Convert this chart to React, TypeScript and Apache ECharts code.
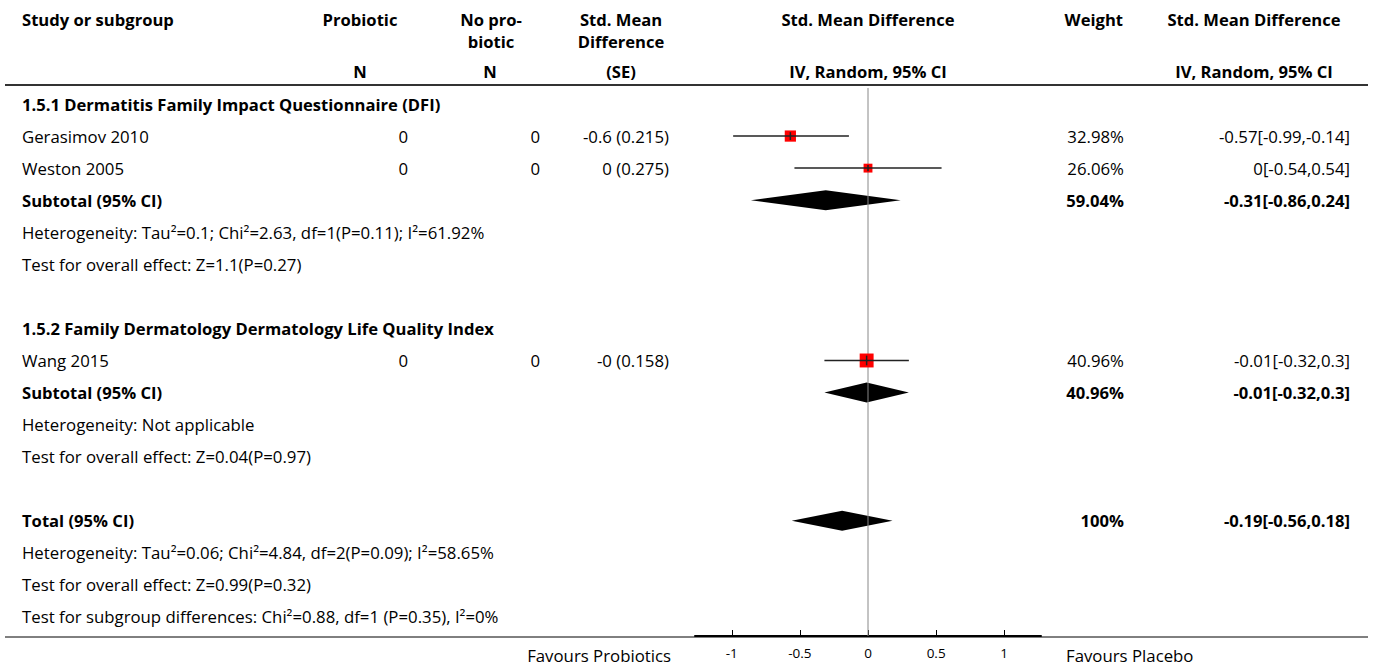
import React, { useEffect, useRef } from "react";
import * as echarts from "echarts";

// ---------- data ----------
const studyNames = ["Gerasimov 2010", "Weston 2005", "Wang 2015"];
const studyRows = [1, 2, 8];
const studyN1 = ["0", "0", "0"];
const studyN2 = ["0", "0", "0"];
const studySE = ["-0.6 (0.215)", "0 (0.275)", "-0 (0.158)"];
const studyEst = [-0.57, 0, -0.01];
const studyLo = [-0.99, -0.54, -0.32];
const studyHi = [-0.14, 0.54, 0.3];
const studyWeight = [32.98, 26.06, 40.96];
const studyWeightLabel = ["32.98%", "26.06%", "40.96%"];
const studyCILabel = ["-0.57[-0.99,-0.14]", "0[-0.54,0.54]", "-0.01[-0.32,0.3]"];

const pooledRows = [3, 9, 13];
const pooledLabels = ["Subtotal (95% CI)", "Subtotal (95% CI)", "Total (95% CI)"];
const pooledEst = [-0.31, -0.01, -0.19];
const pooledLo = [-0.86, -0.32, -0.56];
const pooledHi = [0.24, 0.3, 0.18];
const pooledWeightLabel = ["59.04%", "40.96%", "100%"];
const pooledCILabel = ["-0.31[-0.86,0.24]", "-0.01[-0.32,0.3]", "-0.19[-0.56,0.18]"];

const headingRows = [0, 7];
const headingLabels = [
  "1.5.1 Dermatitis Family Impact Questionnaire (DFI)",
  "1.5.2 Family Dermatology Dermatology Life Quality Index",
];

const noteRows = [4, 5, 10, 11, 14, 15, 16];
const noteLabels = [
  "Heterogeneity: Tau²=0.1; Chi²=2.63, df=1(P=0.11); I²=61.92%",
  "Test for overall effect: Z=1.1(P=0.27)",
  "Heterogeneity: Not applicable",
  "Test for overall effect: Z=0.04(P=0.97)",
  "Heterogeneity: Tau²=0.06; Chi²=4.84, df=2(P=0.09); I²=58.65%",
  "Test for overall effect: Z=0.99(P=0.32)",
  "Test for subgroup differences: Chi²=0.88, df=1 (P=0.35), I²=0%",
];

const tickValues = [-1, -0.5, 0, 0.5, 1];
const axisMin = -1.27;
const axisMax = 1.27;
const favoursLeft = "Favours Probiotics";
const favoursRight = "Favours Placebo";

// ---------- layout ----------
const W = 1373;
const H = 668;
const ROW0 = 104;
const ROWH = 32.06;
const GRID_LEFT = 695;
const GRID_W = 346;
const GRID_H = 636;
const Y_MIN = -ROW0 / ROWH;
const Y_MAX = Y_MIN + GRID_H / ROWH;
const FONT = "'Open Sans'";
const FS = 16.8;
const FSB = 16.6;
const rowY = (i: number) => ROW0 + ROWH * i;

function txt(text: string, x: number, y: number, align: string, bold = false) {
  return {
    type: "text",
    x,
    y,
    silent: true,
    style: {
      text,
      fill: "#000",
      font: `${bold ? "bold " : ""}${bold ? FSB : FS}px ${FONT}`,
      textAlign: align,
      textVerticalAlign: "middle",
    },
  };
}

export default function App() {
  const ref = useRef<HTMLDivElement>(null);
  useEffect(() => {
    if (!ref.current) return;
    const chart = echarts.init(ref.current, undefined, { renderer: "svg" });

    const graphics: any[] = [];
    // header
    const h1 = 19, h2 = 41, h3 = 71;
    graphics.push(txt("Study or subgroup", 22, h1, "left", true));
    graphics.push(txt("Probiotic", 360, h1, "center", true));
    graphics.push(txt("N", 360, h3, "center", true));
    graphics.push(txt("No pro-", 491, h1, "center", true));
    graphics.push(txt("biotic", 491, h2, "center", true));
    graphics.push(txt("N", 490, h3, "center", true));
    graphics.push(txt("Std. Mean", 621, h1, "center", true));
    graphics.push(txt("Difference", 621, h2, "center", true));
    graphics.push(txt("(SE)", 621, h3, "center", true));
    graphics.push(txt("Std. Mean Difference", 868, h1, "center", true));
    graphics.push(txt("IV, Random, 95% CI", 868, h3, "center", true));
    graphics.push(txt("Weight", 1123, h1, "right", true));
    graphics.push(txt("Std. Mean Difference", 1254, h1, "center", true));
    graphics.push(txt("IV, Random, 95% CI", 1254, h3, "center", true));
    graphics.push({ type: "line", silent: true, shape: { x1: 5, y1: 85, x2: 1368, y2: 85 }, style: { stroke: "#333", lineWidth: 2 } });
    graphics.push({ type: "line", silent: true, shape: { x1: 5, y1: 637, x2: 1368, y2: 637 }, style: { stroke: "#000", lineWidth: 1 } });

    headingRows.forEach((r, i) => graphics.push(txt(headingLabels[i], 22, rowY(r), "left", true)));
    studyRows.forEach((r, i) => {
      const y = rowY(r);
      graphics.push(txt(studyNames[i], 22, y, "left"));
      graphics.push(txt(studyN1[i], 408, y, "right"));
      graphics.push(txt(studyN2[i], 540, y, "right"));
      graphics.push(txt(studySE[i], 669, y, "right"));
      graphics.push(txt(studyWeightLabel[i], 1124, y, "right"));
      graphics.push(txt(studyCILabel[i], 1350, y, "right"));
    });
    pooledRows.forEach((r, i) => {
      const y = rowY(r);
      graphics.push(txt(pooledLabels[i], 22, y, "left", true));
      graphics.push(txt(pooledWeightLabel[i], 1124, y, "right", true));
      graphics.push(txt(pooledCILabel[i], 1350, y, "right", true));
    });
    noteRows.forEach((r, i) => graphics.push(txt(noteLabels[i], 22, rowY(r), "left")));
    graphics.push(txt(favoursLeft, 671, 655, "right"));
    graphics.push(txt(favoursRight, 1066, 655, "left"));

    const studyData = studyRows.map((r, i) => [studyEst[i], r, studyLo[i], studyHi[i], studyWeight[i]]);
    const pooledData = pooledRows.map((r, i) => [pooledEst[i], r, pooledLo[i], pooledHi[i]]);

    chart.setOption({
      animation: false,
      grid: { left: GRID_LEFT, width: GRID_W, top: 0, height: GRID_H },
      xAxis: {
        type: "value",
        min: axisMin,
        max: axisMax,
        position: "bottom",
        axisLine: { show: true, onZero: false, lineStyle: { color: "#000", width: 2 } },
        axisTick: { show: true, inside: true, length: 6, customValues: tickValues, lineStyle: { color: "#000" } },
        axisLabel: { customValues: tickValues, fontSize: 13.5, color: "#000", fontFamily: "Open Sans", margin: 10 },
        splitLine: { show: false },
      },
      yAxis: { type: "value", show: false, inverse: true, min: Y_MIN, max: Y_MAX },
      graphic: graphics,
      series: [
        {
          type: "custom",
          coordinateSystem: "cartesian2d",
          data: pooledData,
          z: 2,
          renderItem: (params: any, api: any) => {
            const c = api.coord([api.value(0), api.value(1)]);
            const l = api.coord([api.value(2), api.value(1)]);
            const r = api.coord([api.value(3), api.value(1)]);
            const hh = 10;
            return {
              type: "polygon",
              shape: { points: [[l[0], c[1]], [c[0], c[1] - hh], [r[0], c[1]], [c[0], c[1] + hh]] },
              style: { fill: "#000" },
            };
          },
        },
        {
          type: "line",
          data: [[0, -0.5], [0, Y_MAX]],
          symbol: "none",
          z: 3,
          lineStyle: { color: "#888", width: 1 },
        },
        {
          type: "custom",
          coordinateSystem: "cartesian2d",
          data: studyData,
          z: 4,
          renderItem: (params: any, api: any) => {
            const c = api.coord([api.value(0), api.value(1)]);
            const l = api.coord([api.value(2), api.value(1)]);
            const r = api.coord([api.value(3), api.value(1)]);
            const s = api.value(4) * 0.34;
            return {
              type: "group",
              children: [
                { type: "rect", shape: { x: c[0] - s / 2, y: c[1] - s / 2, width: s, height: s }, style: { fill: "#ff0000" } },
                { type: "line", shape: { x1: l[0], y1: c[1], x2: r[0], y2: c[1] }, style: { stroke: "#222", lineWidth: 1.5 } },
                { type: "line", shape: { x1: c[0], y1: c[1] - s * 0.35, x2: c[0], y2: c[1] + s * 0.35 }, style: { stroke: "#222", lineWidth: 1.5 } },
              ],
            };
          },
        },
      ],
    });
    return () => chart.dispose();
  }, []);
  return <div ref={ref} style={{ position: "fixed", left: 0, top: 0, width: W, height: H, background: "#fff" }} />;
}
